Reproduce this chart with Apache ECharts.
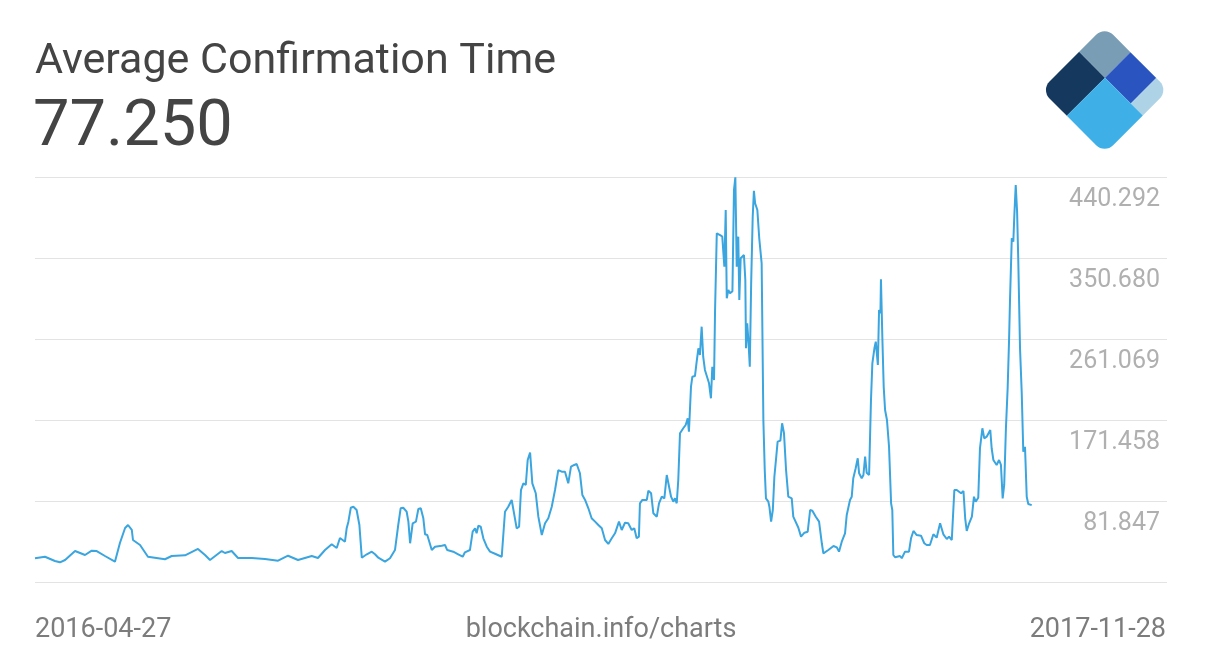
<!DOCTYPE html>
<html>
<head>
<meta charset="utf-8">
<script src="https://cdn.jsdelivr.net/npm/echarts@6/dist/echarts.min.js"></script>
<style>
html,body{margin:0;padding:0;background:#fff;}
#chart{width:1205px;height:666px;}
</style>
</head>
<body>
<div id="chart"></div>
<script>
// ---- data ----
const chartTitle = 'Average Confirmation Time';
const latestValue = '77.250';
const startLabel = '2016-04-27';
const endLabel = '2017-11-28';
const sourceLabel = 'blockchain.info/charts';

// days since 2016-04-27
const dayOffsets = [
0,5.8,11.6,14.5,17.5,23.3,29.1,33.0,35.9,40.7,46.5,49.4,52.4,54.1,56.3,57.0,61.1,65.7,75.6,79.5,
87.3,94.8,98.9,101.8,108.6,110.5,114.4,118.1,126.1,133.8,141.4,147.2,153.0,161.0,164.6,168.7,172.6,175.5,177.4,180.3,
181.3,182.3,183.7,185.2,187.1,188.7,190.1,193.0,195.9,197.8,199.7,203.6,206.5,209.4,211.3,212.7,214.2,216.2,217.2,218.2,
219.7,221.6,223.0,224.4,225.9,226.9,228.2,230.8,232.7,236.6,238.5,239.8,243.3,246.2,248.8,250.1,253.0,254.6,256.0,256.9,
257.9,259.3,260.8,262.8,264.7,267.6,271.5,
273.4,275.3,277.3,278.2,280.2,281.6,282.7,284.1,285.5,286.6,288.0,289.3,291.3,292.8,294.8,296.7,298.6,300.6,302.5,304.4,
306.4,308.3,310.2,311.8,313.7,315.1,317.0,318.4,320.0,321.9,323.8,325.8,327.7,329.7,331.6,333.5,335.5,337.4,339.7,341.3,
343.2,345.1,347.1,348.6,350.0,351.3,351.9,
353.3,355.9,356.8,358.4,359.7,361.7,363.0,364.6,366.1,367.5,368.4,370.0,371.3,372.3,373.3,374.2,375.2,377.1,378.5,379.7,
380.4,381.6,382.4,383.9,384.9,385.9,386.8,387.8,388.7,389.7,390.7,392.1,393.2,394.0,395.0,395.6,396.6,398.5,399.8,401.0,
401.8,402.4,403.3,404.3,405.7,406.6,407.4,408.2,409.1,409.7,410.5,412.4,413.2,413.6,414.3,415.1,415.8,416.6,417.5,418.2,
418.9,420.2,421.3,422.1,422.7,423.7,424.5,425.2,426.6,427.2,428.2,429.2,430.1,431.2,432.0,433.6,434.6,435.7,436.9,438.2,
440.2,441.1,444.0,
445.6,447.6,449.5,450.9,452.2,454.2,456.1,457.7,458.6,461.5,464.5,466.4,467.7,469.3,471.2,472.2,474.1,475.1,476.0,477.4,
478.6,479.4,480.9,481.9,482.9,483.8,485.2,486.3,487.1,488.3,489.1,490.3,491.0,491.8,492.1,492.9,493.7,494.5,495.6,496.8,
498.0,498.7,499.3,500.3,503.2,
504.2,506.1,508.4,509.6,511.0,512.9,515.4,517.3,518.7,520.6,522.6,524.5,526.5,528.4,530.4,531.7,533.3,534.8,536.2,538.7,
540.1,541.1,542.0,543.4,545.0,546.2,547.2,548.7,549.7,551.1,552.2,553.6,554.5,555.7,556.5,557.5,558.5,559.4,560.8,561.9,
562.9,563.8,564.8,565.8,566.6,567.2,568.2,569.1,569.7,570.5,571.3,572.0,573.0,574.0,574.9,575.9,576.9,577.8,579.8
];

// average confirmation time (minutes)
const values = [
18.5,20.2,15.5,14.0,16.6,26.5,22.1,26.9,26.5,21.0,14.7,35.4,52.0,55.3,49.8,38.7,33.2,20.2,17.4,21.0,
21.8,28.8,22.1,16.6,26.5,24.3,26.5,18.8,18.8,17.7,15.8,21.3,16.6,21.0,18.8,27.6,34.0,29.9,40.9,36.8,
51.6,59.0,74.4,75.5,71.9,55.3,19.1,22.9,25.8,22.9,19.1,14.7,18.5,27.6,55.3,73.8,74.4,70.0,59.0,35.1,
57.2,59.0,73.0,73.8,62.7,45.0,44.2,27.6,31.3,32.4,33.2,27.6,25.8,22.9,20.2,25.1,27.6,47.9,51.6,46.1,
54.5,53.4,40.6,31.3,25.8,23.5,20.2,
70.0,75.5,83.0,81.1,51.6,53.4,94.0,101.4,99.6,127.2,135.3,101.4,90.4,64.5,44.2,57.2,62.7,75.5,94.0,116.1,
114.3,114.3,101.4,119.8,121.7,122.8,112.5,88.5,83.0,73.8,62.7,59.0,55.3,51.6,38.7,34.3,40.6,46.1,59.0,49.8,
57.8,57.2,49.8,51.6,40.6,42.4,79.3,
83.0,83.0,93.2,90.4,68.2,64.5,79.3,86.6,84.8,110.6,108.7,86.6,81.1,84.8,79.3,105.1,156.8,162.3,165.9,173.3,
158.5,208.3,219.4,220.1,236.0,250.8,243.4,274.7,241.5,226.8,228.7,212.1,195.5,230.4,215.7,293.2,378.0,376.1,374.3,341.1,
403.8,306.1,315.3,311.6,314.0,425.9,440.0,341.1,374.3,304.2,350.4,354.0,326.3,250.8,278.4,256.3,230.4,322.7,396.4,425.1,
411.2,403.8,372.5,370.6,344.8,171.5,116.1,84.8,81.1,75.5,59.0,71.9,108.7,130.9,147.5,148.6,167.8,156.8,116.1,86.6,
84.8,64.5,52.5,
42.4,46.8,47.9,71.9,71.1,64.5,59.0,35.1,24.0,27.6,32.1,30.6,25.8,36.8,46.1,66.4,83.0,86.6,107.0,118.0,
129.1,112.5,107.0,110.6,130.9,113.2,110.6,193.6,234.2,250.8,258.1,232.3,293.2,289.5,327.1,263.6,208.3,182.5,171.5,141.9,
79.3,71.9,22.1,19.6,21.0,
18.5,25.8,25.8,40.6,48.7,44.2,43.5,35.1,33.2,33.2,45.0,41.3,57.2,45.0,39.8,42.4,38.7,94.0,94.0,90.4,
92.9,62.7,48.7,57.2,64.5,86.6,81.1,85.5,140.2,162.3,151.2,153.0,151.2,160.4,140.2,127.2,125.3,121.7,127.2,121.7,
84.8,99.6,162.3,206.5,258.1,306.1,372.5,368.7,398.2,431.4,401.9,346.6,250.8,201.0,136.4,141.9,86.6,78.5,77.25
];

// y axis ticks
const yMin = -7.764;
const yMax = 440.292;
const yInterval = 89.6112;
const yTickLabels = ['81.847', '171.458', '261.069', '350.680', '440.292'];
const xMaxDays = 658.5;

// ---- chart ----
const chart = echarts.init(document.getElementById('chart'), null, {renderer: 'canvas'});
const seriesData = dayOffsets.map((d, i) => [d, values[i]]);

function txt(x, y, text, size, color, align) {
  return {
    type: 'text', silent: true,
    style: {
      x: x, y: y, text: text,
      fontSize: size, fontFamily: 'Roboto', fontWeight: 'normal',
      fill: color,
      align: align, textAlign: align,
      verticalAlign: 'middle', textVerticalAlign: 'middle'
    }
  };
}

const S = 90, R = 12, A = 54, B = 36.5, C = 73;
const logo = {
  type: 'group',
  x: 1041, y: 90,
  rotation: Math.PI / 4,
  silent: true,
  children: [
    {type: 'rect', shape: {x: 0, y: 0, width: A, height: B, r: [R, 0, 0, 0]}, style: {fill: '#15385e'}},
    {type: 'rect', shape: {x: A, y: 0, width: S - A, height: B, r: [0, R, 0, 0]}, style: {fill: '#789db4'}},
    {type: 'rect', shape: {x: A, y: B, width: S - A, height: C - B}, style: {fill: '#2a55c1'}},
    {type: 'rect', shape: {x: A, y: C, width: S - A, height: S - C, r: [0, 0, R, 0]}, style: {fill: '#aed3e6'}},
    {type: 'rect', shape: {x: 0, y: B, width: A, height: S - B, r: [0, 0, 0, R]}, style: {fill: '#3eb0e7'}}
  ]
};

const option = {
  animation: false,
  backgroundColor: '#ffffff',
  grid: {left: 35, right: 38, top: 177, bottom: 84, containLabel: false},
  xAxis: {type: 'value', min: 0, max: xMaxDays, show: false},
  yAxis: {
    type: 'value', position: 'right',
    min: yMin, max: yMax, interval: yInterval,
    axisLine: {show: false}, axisTick: {show: false},
    splitLine: {show: true, lineStyle: {color: '#e3e3e3', width: 1}},
    axisLabel: {
      inside: true, margin: 7, showMinLabel: false,
      color: '#b0b0b0', fontSize: 25, fontFamily: 'Roboto',
      verticalAlign: 'top', lineHeight: 46,
      formatter: function (v) {
        const k = Math.round((v - yMin) / yInterval);
        return k > 0 ? yTickLabels[k - 1] : '';
      }
    }
  },
  series: [{
    type: 'line', data: seriesData,
    showSymbol: false, symbol: 'none', silent: true,
    lineStyle: {color: '#3aa5de', width: 2},
    clip: true
  }],
  graphic: [
    txt(35, 62, chartTitle, 43, '#444444', 'left'),
    txt(33, 129, latestValue, 65, '#444444', 'left'),
    txt(35, 630, startLabel, 27, '#7c7c7c', 'left'),
    txt(601, 630, sourceLabel, 27, '#7c7c7c', 'center'),
    txt(1166, 630, endLabel, 27, '#7c7c7c', 'right'),
    logo
  ]
};
chart.setOption(option);
</script>
</body>
</html>
